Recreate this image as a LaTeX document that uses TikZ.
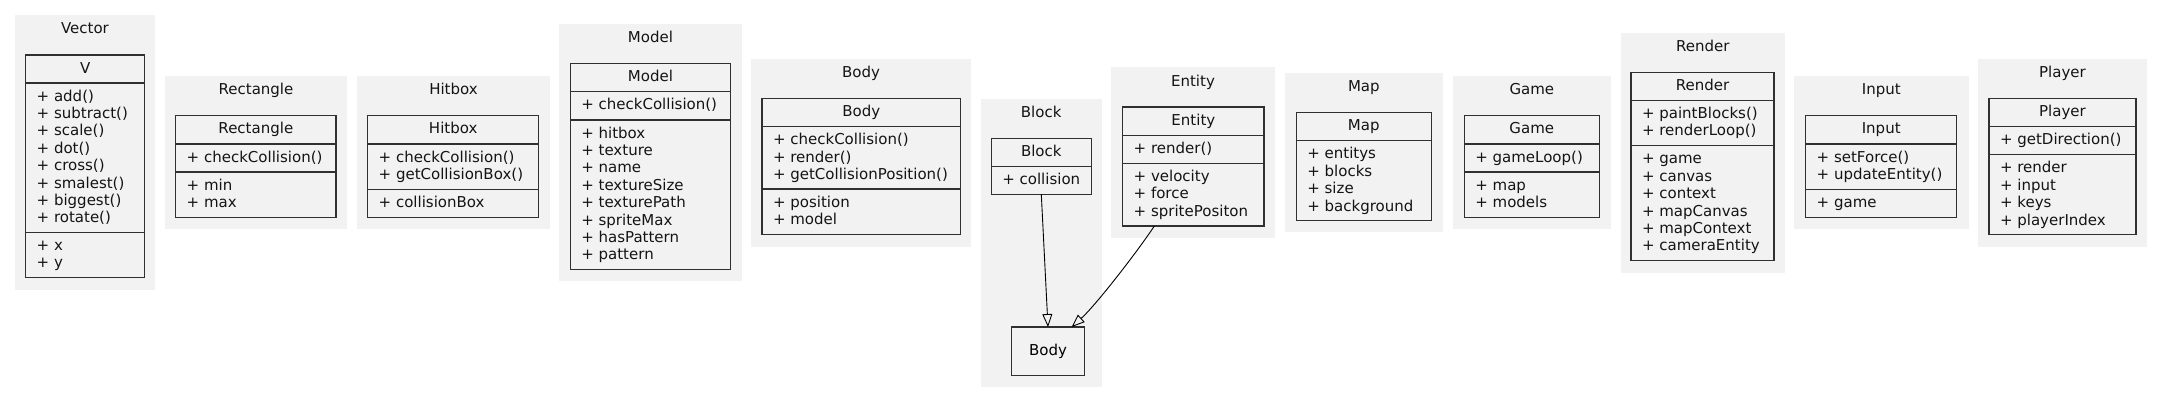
\documentclass[tikz,border=0pt]{standalone}
\usepackage{fontspec}
\setmainfont{DejaVu Sans}
\usetikzlibrary{arrows.meta}
\definecolor{clbg}{HTML}{F2F2F2}
\definecolor{ln}{HTML}{303030}
\tikzset{
  clusterbg/.style={fill=clbg, draw=none, inner sep=0pt, outer sep=0pt, anchor=north west},
  classbox/.style={fill=clbg, draw=ln, line width=1.2pt, inner sep=0pt, outer sep=0pt, anchor=north west},
  divider/.style={draw=ln, line width=1.2pt},
  txt/.style={inner sep=0pt, outer sep=0pt, font=\fontsize{15}{17.4}\selectfont, text=black!92},
  inherit/.style={draw=black, line width=0.9pt, -{Triangle[open, length=13pt, width=10pt]}},
}
\newcommand\clusterbox[6]{%
  \node[clusterbg, minimum width={#4-#2}, minimum height={#5-#3}] (#1cl) at (#2,#3) {};
  \node[txt, anchor=base] (#1title) at ({(#2+#4)/2}, #3+19) {#6};
}
\newcommand\classhead[6]{%
  \node[classbox, minimum width={#4-#2}, minimum height={#5-#3}] (#1) at (#2,#3) {};
  \node[txt, anchor=base] (#1name) at ({(#2+#4)/2}, #3+18.2) {#6};
}
\newcommand\compart[5]{%
  \draw[divider] (#2,#4) -- (#3,#4);
  \foreach \t [count=\i] in {#5} {
    \node[txt, anchor=base west] (#1\i) at (#2+11, #4+18.2+17.37*\i-17.37) {+ \t};
  }
}
\begin{document}
\begin{tikzpicture}[x=1pt,y=-1pt]
\useasboundingbox (0,0) rectangle (2163,403);
\fill[white] (0,0) rectangle (2163,403);

% Vector
\clusterbox{Vector}{15}{15}{155}{290}{Vector}
\classhead{V}{25.7}{55}{144.7}{277.7}{V}
\compart{Vm}{25.7}{144.7}{83}{add(),subtract(),scale(),dot(),cross(),smalest(),biggest(),rotate()}
\compart{Va}{25.7}{144.7}{232.3}{x,y}

% Rectangle
\clusterbox{Rectangle}{165}{76}{347}{229}{Rectangle}
\classhead{Rect}{175.7}{115.7}{336}{217.3}{Rectangle}
\compart{Rectm}{175.7}{336}{144}{checkCollision()}
\compart{Recta}{175.7}{336}{172}{min,max}

% Hitbox
\clusterbox{Hitbox}{357}{76}{550}{229}{Hitbox}
\classhead{Hit}{367.7}{115.7}{538.7}{217.3}{Hitbox}
\compart{Hitm}{367.7}{538.7}{144}{checkCollision(),getCollisionBox()}
\compart{Hita}{367.7}{538.7}{189.3}{collisionBox}

% Model
\clusterbox{ModelC}{559.3}{24}{741.7}{281}{Model}
\classhead{Model}{570.3}{63.7}{730.7}{269.3}{Model}
\compart{Modelm}{570.3}{730.7}{91.7}{checkCollision()}
\compart{Modela}{570.3}{730.7}{120}{hitbox,texture,name,textureSize,texturePath,spriteMax,hasPattern,pattern}

% Body
\clusterbox{BodyCl}{751}{59}{971}{246.7}{Body}
\classhead{Body}{762}{98.7}{960.7}{234.7}{Body}
\compart{Bodym}{762}{960.7}{126.7}{checkCollision(),render(),getCollisionPosition()}
\compart{Bodya}{762}{960.7}{189}{position,model}

% Block
\clusterbox{BlockCl}{980.7}{98.7}{1101.7}{386.7}{Block}
\classhead{Block}{991.3}{138.3}{1091.3}{194.3}{Block}
\compart{Blocka}{991.3}{1091.3}{166.3}{collision}
\node[classbox, anchor=center, minimum width=72.6, minimum height=48.3, font=\fontsize{15}{17.4}\selectfont] (BodyN) at (1048,351.2) {Body};

% Entity
\clusterbox{EntityCl}{1111}{67.3}{1275}{237.7}{Entity}
\classhead{Entity}{1122.7}{107}{1264}{226}{Entity}
\compart{Entitym}{1122.7}{1264}{135.3}{render()}
\compart{Entitya}{1122.7}{1264}{163.3}{velocity,force,spritePositon}

% Map
\clusterbox{MapCl}{1285}{72.7}{1442.7}{232.3}{Map}
\classhead{Map}{1296.3}{112.7}{1431.3}{220.7}{Map}
\compart{Mapa}{1296.3}{1431.3}{140.7}{entitys,blocks,size,background}

% Game
\clusterbox{GameCl}{1452.7}{76}{1611}{229}{Game}
\classhead{Game}{1464.3}{115.7}{1599.3}{217.3}{Game}
\compart{Gamem}{1464.3}{1599.3}{144}{gameLoop()}
\compart{Gamea}{1464.3}{1599.3}{172}{map,models}

% Render
\clusterbox{RenderCl}{1620.7}{32.7}{1784.7}{272.7}{Render}
\classhead{Render}{1631}{72.3}{1774}{260.7}{Render}
\compart{Renderm}{1631}{1774}{100.3}{paintBlocks(),renderLoop()}
\compart{Rendera}{1631}{1774}{145.7}{game,canvas,context,mapCanvas,mapContext,cameraEntity}

% Input
\clusterbox{InputCl}{1794}{76}{1968.7}{229}{Input}
\classhead{Input}{1805.7}{115.7}{1956.7}{217.3}{Input}
\compart{Inputm}{1805.7}{1956.7}{144}{setForce(),updateEntity()}
\compart{Inputa}{1805.7}{1956.7}{189.3}{game}

% Player
\clusterbox{PlayerCl}{1978}{59}{2147}{246.7}{Player}
\classhead{Player}{1989}{98.7}{2136}{234.7}{Player}
\compart{Playerm}{1989}{2136}{126.7}{getDirection()}
\compart{Playera}{1989}{2136}{154.7}{render,input,keys,playerIndex}

% edges
\draw[inherit] (Block.south) -- (BodyN.north);
\draw[inherit] ([xshift=31.6pt]Entity.south west) .. controls (1140,248) and (1097,304) .. ([xshift=-12.6pt]BodyN.north east);
\end{tikzpicture}
\end{document}
